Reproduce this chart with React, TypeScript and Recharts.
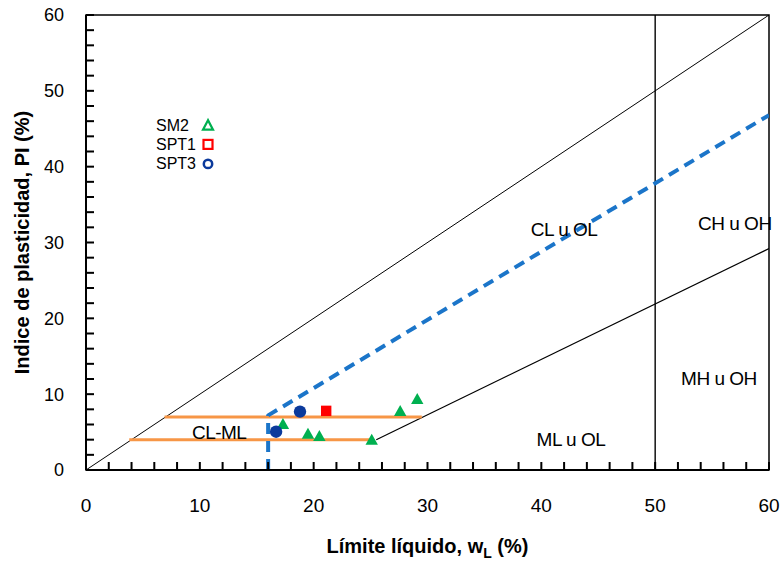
import React from 'react';
import {
  ComposedChart,
  XAxis,
  YAxis,
  Line,
  Scatter,
  ReferenceArea,
  ReferenceDot,
  Legend,
} from 'recharts';

// ---- axis ticks ----
const xTicks = [0, 2, 4, 6, 8, 10, 12, 14, 16, 18, 20, 22, 24, 26, 28, 30, 32, 34, 36, 38, 40, 42, 44, 46, 48, 50, 52, 54, 56, 58, 60];
const yTicks = [0, 2, 4, 6, 8, 10, 12, 14, 16, 18, 20, 22, 24, 26, 28, 30, 32, 34, 36, 38, 40, 42, 44, 46, 48, 50, 52, 54, 56, 58, 60];
const labeledTicks = [0, 10, 20, 30, 40, 50, 60];

// ---- series (wL, PI) ----
const sm2 = [
  { x: 17.3, y: 6.1 },
  { x: 19.5, y: 4.8 },
  { x: 20.5, y: 4.5 },
  { x: 25.1, y: 4.0 },
  { x: 27.6, y: 7.8 },
  { x: 29.1, y: 9.4 },
];
const spt1 = [{ x: 21.1, y: 7.8 }];
const spt3 = [
  { x: 16.7, y: 5.05 },
  { x: 18.8, y: 7.7 },
];

// ---- chart reference lines ----
const diagonalLine = [
  { x: 0, y: 0 },
  { x: 60, y: 60 },
];
const aLine = [
  { x: 25.5, y: 4.0 },
  { x: 60, y: 29.2 },
];
const llLine = [
  { x: 50, y: 0 },
  { x: 50, y: 60 },
];
const uLine = [
  { x: 16, y: 0 },
  { x: 16, y: 7.2 },
  { x: 60, y: 46.8 },
];
const clmlUpper = [
  { x: 6.9, y: 7 },
  { x: 29.5, y: 7 },
];
const clmlLower = [
  { x: 3.8, y: 4 },
  { x: 24.9, y: 4 },
];

const regionLabels = [
  { x: 42.0, y: 31.8, text: 'CL u OL' },
  { x: 57.0, y: 32.6, text: 'CH u OH' },
  { x: 55.6, y: 12.1, text: 'MH u OH' },
  { x: 42.6, y: 4.1, text: 'ML u OL' },
  { x: 11.7, y: 5.0, text: 'CL-ML' },
];

const legendItems = ['SM2', 'SPT1', 'SPT3'];

const COLORS = {
  sm2: '#00B050',
  spt1: '#FF0000',
  spt3: '#0B3A9C',
  uLine: '#1B75C9',
  orange: '#F79646',
};

const XTick = (props: any) => {
  const { x, y, payload } = props;
  const axisY = y - 35;
  const major = labeledTicks.includes(payload.value);
  return (
    <g>
      <rect x={x - 1} y={axisY - 8} width={2} height={8} fill="#000" />
      {major ? (
        <text x={x} y={y} dy="0.355em" textAnchor="middle" fontSize={19} fill="#000">
          {payload.value}
        </text>
      ) : null}
    </g>
  );
};

const YTick = (props: any) => {
  const { x, y, payload } = props;
  const axisX = x + 22;
  const major = labeledTicks.includes(payload.value);
  return (
    <g>
      <rect x={axisX} y={y - 1} width={8} height={2} fill="#000" />
      {major ? (
        <text x={x} y={y} dy="0.355em" textAnchor="end" fontSize={18} fill="#000">
          {payload.value}
        </text>
      ) : null}
    </g>
  );
};

const renderYTitle = (props: any) => {
  const vb = props.viewBox;
  const cx = vb.x + 22;
  const cy = vb.y + vb.height / 2;
  return (
    <text
      x={cx}
      y={cy}
      dy="0.355em"
      textAnchor="middle"
      fontSize={20}
      fontWeight="bold"
      fill="#000"
      transform={`rotate(-90, ${cx}, ${cy})`}
    >
      Indice de plasticidad, PI (%)
    </text>
  );
};

const renderXTitle = (props: any) => {
  const vb = props.viewBox;
  const cx = vb.x + vb.width / 2;
  const cy = vb.y + 83;
  return (
    <text x={cx} y={cy} textAnchor="middle" fontSize={20} fontWeight="bold" fill="#000">
      <tspan>Límite líquido, w</tspan>
      <tspan fontSize={14} dy={5}>L</tspan>
      <tspan dy={-5}> (%)</tspan>
    </text>
  );
};

const triangleShape = (fill: string) => (p: any) => {
  const { cx, cy } = p;
  return (
    <polygon
      points={`${cx},${cy - 5.8} ${cx - 6.2},${cy + 5.2} ${cx + 6.2},${cy + 5.2}`}
      fill={fill}
    />
  );
};
const squareShape = (fill: string) => (p: any) => (
  <rect x={p.cx - 5.2} y={p.cy - 5.2} width={10.4} height={10.4} fill={fill} />
);
const circleShape = (fill: string) => (p: any) => (
  <circle cx={p.cx} cy={p.cy} r={6.2} fill={fill} />
);

const LegendContent = () => {
  const rows = [15.7, 34.4, 53.4];
  return (
    <svg width={80} height={70} style={{ overflow: 'visible' }}>
      {legendItems.map((name, i) => (
        <text key={name} x={6} y={rows[i]} dy="0.355em" fontSize={16} fill="#000">
          {name}
        </text>
      ))}
      <polygon
        points={`58,${rows[0] - 5.5} ${53},${rows[0] + 4} ${63},${rows[0] + 4}`}
        fill="none"
        stroke={COLORS.sm2}
        strokeWidth={2.2}
      />
      <rect x={53.5} y={rows[1] - 4.5} width={9} height={9} fill="none" stroke={COLORS.spt1} strokeWidth={2.2} />
      <circle cx={58} cy={rows[2] + 0.5} r={4.2} fill="none" stroke={COLORS.spt3} strokeWidth={2.5} />
    </svg>
  );
};

export default function App() {
  return (
    <div
      style={{
        position: 'absolute',
        left: 0,
        top: 0,
        width: 784,
        height: 564,
        overflow: 'hidden',
        fontFamily: '"Liberation Sans", Arial, sans-serif',
      }}
    >
      <ComposedChart
        width={784}
        height={564}
        margin={{ top: 15, right: 15, bottom: 0, left: 0 }}
      >
        <ReferenceArea x1={0} x2={60} y1={0} y2={60} fill="none" stroke="#000" strokeWidth={1.5} />

        <Line data={diagonalLine} dataKey="y" stroke="#000" strokeWidth={1} dot={false} activeDot={false} isAnimationActive={false} legendType="none" />
        <Line data={aLine} dataKey="y" stroke="#000" strokeWidth={1.2} dot={false} activeDot={false} isAnimationActive={false} legendType="none" />
        <Line data={llLine} dataKey="y" stroke="#000" strokeWidth={1.4} dot={false} activeDot={false} isAnimationActive={false} legendType="none" />
        <Line data={clmlUpper} dataKey="y" stroke={COLORS.orange} strokeWidth={3} dot={false} activeDot={false} isAnimationActive={false} legendType="none" />
        <Line data={clmlLower} dataKey="y" stroke={COLORS.orange} strokeWidth={3} dot={false} activeDot={false} isAnimationActive={false} legendType="none" />
        <Line
          data={uLine}
          dataKey="y"
          stroke={COLORS.uLine}
          strokeWidth={4}
          strokeDasharray="11 7"
          strokeLinejoin="round"
          dot={false}
          activeDot={false}
          isAnimationActive={false}
          legendType="none"
        />

        <Scatter name="SM2" data={sm2} dataKey="y" shape={triangleShape(COLORS.sm2)} isAnimationActive={false} />
        <Scatter name="SPT1" data={spt1} dataKey="y" shape={squareShape(COLORS.spt1)} isAnimationActive={false} />
        <Scatter name="SPT3" data={spt3} dataKey="y" shape={circleShape(COLORS.spt3)} isAnimationActive={false} />

        {regionLabels.map((r) => (
          <ReferenceDot
            key={r.text}
            x={r.x}
            y={r.y}
            r={0}
            fill="none"
            stroke="none"
            label={{ value: r.text, position: 'center', fontSize: 19, fill: '#000', letterSpacing: -0.5 }}
          />
        ))}

        <XAxis
          type="number"
          dataKey="x"
          domain={[0, 60]}
          ticks={xTicks}
          interval={0}
          allowDataOverflow
          height={94}
          tickSize={0}
          tickMargin={35}
          tick={XTick}
          axisLine={{ stroke: '#000', strokeWidth: 2 }}
          tickLine={false}
          label={{ content: renderXTitle }}
        />
        <YAxis
          type="number"
          dataKey="y"
          domain={[0, 60]}
          ticks={yTicks}
          interval={0}
          allowDataOverflow
          width={86}
          tickSize={0}
          tickMargin={22}
          tick={YTick}
          axisLine={{ stroke: '#000', strokeWidth: 2 }}
          tickLine={false}
          label={{ content: renderYTitle }}
        />

        <Legend
          layout="horizontal"
          verticalAlign="middle"
          align="center"
          wrapperStyle={{ left: 150, top: 110, width: 80, height: 70 }}
          content={LegendContent}
        />
      </ComposedChart>
    </div>
  );
}
